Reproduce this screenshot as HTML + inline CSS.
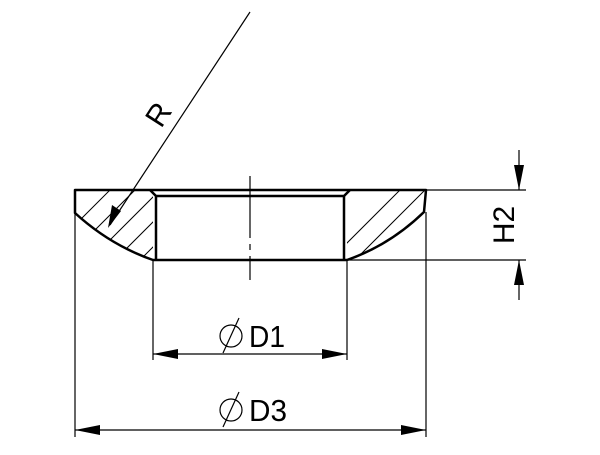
<!DOCTYPE html>
<html><head><style>body{margin:0;background:#fff}</style></head><body>
<svg width="600" height="450" viewBox="0 0 600 450" xmlns="http://www.w3.org/2000/svg" style="font-family:'Liberation Sans','DejaVu Sans',sans-serif">
<defs>
<clipPath id="cl"><path d="M75,190 L153,190 L153,260 Q110,245 75,213 Z"/></clipPath>
<clipPath id="cr"><path d="M347,190 L426,190 L424,212 Q390,245 347,260 Z"/></clipPath>
</defs>
<g stroke="#000" stroke-width="1" fill="none">
<g clip-path="url(#cl)">
<path d="M40,260 L120,180 M65,260 L145,180 M90,260 L170,180 M115,260 L195,180 M140,260 L220,180 M165,260 L245,180"/>
</g>
<g clip-path="url(#cr)">
<path d="M320,270 L410,180 M345,270 L435,180 M370,270 L460,180 M395,270 L485,180 M420,270 L510,180"/>
</g>
</g>
<g stroke="#000" stroke-width="2.5" fill="none" stroke-linejoin="round">
<path d="M75,190 L426,190 L424,212 Q390,245 347,260 L153,260 Q110,245 75,213 Z"/>
<path d="M150,190 L156,196 L344,196 L350,190"/>
<path d="M156,196 L156,260 M344,196 L344,260"/>
</g>
<g stroke="#000" stroke-width="1.2" fill="none">
<path d="M250,176 L250,238 M250,244 L250,250 M250,256 L250,280"/>
<path d="M75,213 L75,437 M426,212 L426,437"/>
<path d="M153,260 L153,360 M347,260 L347,360"/>
<path d="M426,190 L526,190 M347,260 L526,260"/>
<path d="M519,150 L519,190 M519,260 L519,300"/>
<path d="M153,354 L347,354 M75,430 L426,430"/>
<path d="M250,12 L110,225"/>
</g>
<g fill="#000">
<path d="M153,354 L178,349 L178,359 Z M347,354 L322,349 L322,359 Z"/>
<path d="M75,430 L100,425 L100,435 Z M426,430 L401,425 L401,435 Z"/>
<path d="M519,190 L514,165 L524,165 Z M519,260 L514,285 L524,285 Z"/>
<path d="M108,228 L112,205 L121,211 Z"/>
</g>
<g fill="#000">
<text x="249" y="347" font-size="31" textLength="36" lengthAdjust="spacingAndGlyphs">D1</text>
<text x="249" y="421" font-size="31" textLength="38" lengthAdjust="spacingAndGlyphs">D3</text>
<text transform="translate(514,225) rotate(-90)" text-anchor="middle" font-size="30">H2</text>
<text transform="translate(167,120) rotate(-57)" text-anchor="middle" font-size="30">R</text>
</g>
<g stroke="#000" stroke-width="1.2" fill="none">
<circle cx="231" cy="336" r="11"/><path d="M223,353 L239,318"/>
<circle cx="231" cy="410" r="11"/><path d="M223,427 L239,392"/>
</g>
</svg>
</body></html>
